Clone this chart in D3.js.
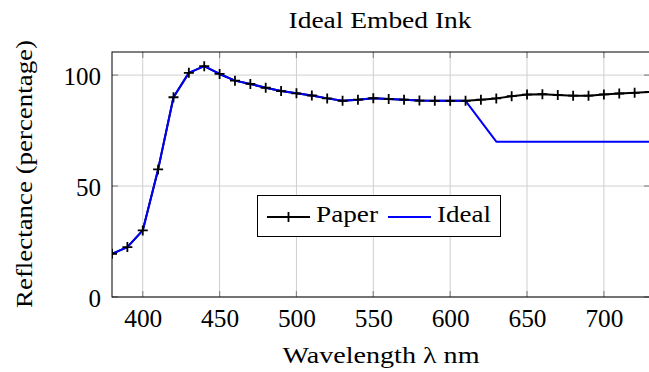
<!DOCTYPE html>
<html><head><meta charset="utf-8">
<script src="https://cdn.jsdelivr.net/npm/d3@7"></script>
<style>body{margin:0;background:#fff}svg{display:block}</style>
</head><body><svg id="c" width="649" height="372"></svg>
<script>
const wavelengths = [380,390,400,410,420,430,440,450,460,470,480,490,500,510,520,530,540,550,560,570,580,590,600,610,620,630,640,650,660,670,680,690,700,710,720,730];
const paper = [19.5,22.5,30,57.5,90,101,104,100.5,97.5,96,94.3,92.8,91.8,90.8,89.5,88.4,88.9,89.6,89.2,88.9,88.5,88.4,88.4,88.4,88.9,89.5,90.5,91.2,91.4,91,90.7,90.7,91.3,91.7,92,92.4];
const idealX = [380,390,400,410,420,430,440,450,460,470,480,490,500,510,520,530,540,550,560,570,580,590,600,610,630,640,650,660,670,680,690,700,710,720,730];
const ideal = [19.5,22.5,30,57.5,90,101,104,100.5,97.5,96,94.3,92.8,91.8,90.8,89.5,88.4,88.9,89.6,89.2,88.9,88.5,88.4,88.4,88.4,70,70,70,70,70,70,70,70,70,70,70];
const xTicks = [400,450,500,550,600,650,700];
const yTicks = [0,50,100];
const title = "Ideal Embed Ink";
const xLabel = "Wavelength \u03bb nm";
const yLabel = "Reflectance (percentage)";
const seriesNames = ["Paper","Ideal"];

const FONT = 'Liberation Serif, DejaVu Serif, serif';
const svg = d3.select("#c");
const L=112,R=650,T=52,B=297;
const x = d3.scaleLinear().domain([380,730]).range([L,R]);
const y = d3.scaleLinear().domain([0,110.4]).range([B,T]);

// grid
const g = svg.append("g");
g.selectAll(".gx").data(xTicks).enter().append("line")
 .attr("x1",d=>x(d)).attr("x2",d=>x(d)).attr("y1",T).attr("y2",B)
 .attr("stroke","#cfcfcf").attr("stroke-width",1);
g.selectAll(".gy").data(yTicks).enter().append("line")
 .attr("y1",d=>y(d)).attr("y2",d=>y(d)).attr("x1",L).attr("x2",R)
 .attr("stroke","#cfcfcf").attr("stroke-width",1);
// inner ticks
const tk=6;
g.selectAll(".tb").data(xTicks).enter().append("line")
 .attr("x1",d=>x(d)).attr("x2",d=>x(d)).attr("y1",B).attr("y2",B-tk).attr("stroke","#8a8a8a").attr("stroke-width",1.2);
g.selectAll(".tt").data(xTicks).enter().append("line")
 .attr("x1",d=>x(d)).attr("x2",d=>x(d)).attr("y1",T).attr("y2",T+tk).attr("stroke","#8a8a8a").attr("stroke-width",1.2);
g.selectAll(".tl").data(yTicks).enter().append("line")
 .attr("y1",d=>y(d)).attr("y2",d=>y(d)).attr("x1",L).attr("x2",L+tk).attr("stroke","#8a8a8a").attr("stroke-width",1.2);
g.selectAll(".tr").data(yTicks).enter().append("line")
 .attr("y1",d=>y(d)).attr("y2",d=>y(d)).attr("x1",R).attr("x2",R-tk).attr("stroke","#8a8a8a").attr("stroke-width",1.2);

// tick labels via d3 axes
const xa = svg.append("g").attr("transform",`translate(0,${B})`)
 .call(d3.axisBottom(x).tickValues(xTicks).tickSize(0).tickPadding(0).tickFormat(d3.format("d")));
xa.attr("font-family",FONT).attr("font-size",25);
xa.select(".domain").remove();
xa.selectAll("text").attr("dy",null).attr("y",29.5).attr("fill","#000").attr("textLength",38).attr("lengthAdjust","spacingAndGlyphs");
const ya = svg.append("g").attr("transform",`translate(${L},0)`)
 .call(d3.axisLeft(y).tickValues(yTicks).tickSize(0).tickPadding(0).tickFormat(d3.format("d")));
ya.attr("font-family",FONT).attr("font-size",25);
ya.select(".domain").remove();
ya.selectAll("text").attr("dy",null).attr("x",-11).attr("y",9).attr("fill","#000");

// lines
svg.append("clipPath").attr("id","cp").append("rect").attr("x",L).attr("y",T-10).attr("width",R-L+10).attr("height",B-T+20);
const pg = svg.append("g").attr("clip-path","url(#cp)");
const line = d3.line().x(d=>x(d[0])).y(d=>y(d[1]));
const pData = wavelengths.map((w,i)=>[w,paper[i]]);
const iData = idealX.map((w,i)=>[w,ideal[i]]);
pg.append("path").attr("d",line(pData)).attr("fill","none").attr("stroke","#000").attr("stroke-width",2).attr("stroke-linejoin","round");
pg.append("path").attr("d",line(iData)).attr("fill","none").attr("stroke","#0000ff").attr("stroke-width",2).attr("stroke-linejoin","round");
const ms=5;
pg.selectAll(".m").data(pData).enter().append("path")
 .attr("d",d=>`M${x(d[0])-ms},${y(d[1])}H${x(d[0])+ms}M${x(d[0])},${y(d[1])-ms}V${y(d[1])+ms}`)
 .attr("stroke","#000").attr("stroke-width",1.8);

// frame
svg.append("rect").attr("x",L).attr("y",T).attr("width",R-L).attr("height",B-T).attr("fill","none").attr("stroke","#000").attr("stroke-width",1);

// title & labels
function txt(s,xx,yy,len,anchor){
  return svg.append("text").attr("x",xx).attr("y",yy).attr("text-anchor",anchor||"middle")
   .attr("font-family",FONT).attr("font-size",24).attr("fill","#000")
   .attr("textLength",len).attr("lengthAdjust","spacingAndGlyphs").text(s);
}
txt(title,380,27.7,183);
txt(xLabel,381,363,197);
txt(yLabel,0,0,268).attr("transform","translate(32,174) rotate(-90)");

// legend
const lg = svg.append("g");
lg.append("rect").attr("x",257.5).attr("y",195.5).attr("width",243).attr("height",41).attr("fill","#fff").attr("stroke","#000").attr("stroke-width",1);
const ly=217;
lg.append("line").attr("x1",267).attr("x2",310).attr("y1",ly).attr("y2",ly).attr("stroke","#000").attr("stroke-width",2);
lg.append("path").attr("d",`M${288.5-ms},${ly}H${288.5+ms}M288.5,${ly-ms}V${ly+ms}`).attr("stroke","#000").attr("stroke-width",1.8);
txt(seriesNames[0],316,221.5,62,"start");
lg.append("line").attr("x1",388).attr("x2",431).attr("y1",ly).attr("y2",ly).attr("stroke","#0000ff").attr("stroke-width",2);
txt(seriesNames[1],437,221.5,54,"start");
</script></body></html>
